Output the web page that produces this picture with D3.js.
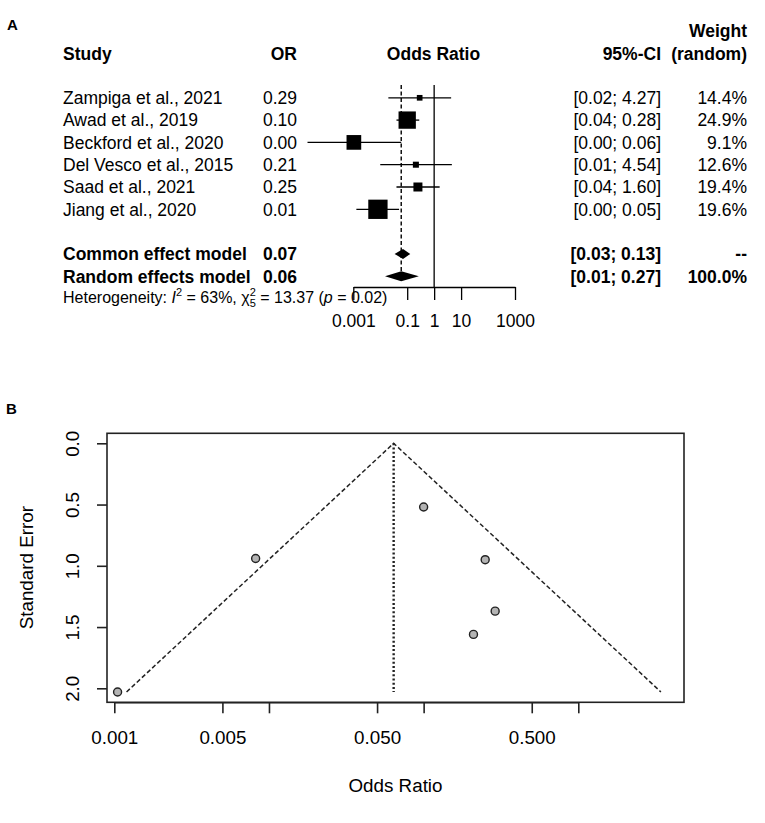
<!DOCTYPE html>
<html>
<head>
<meta charset="utf-8">
<script src="https://cdn.jsdelivr.net/npm/d3@7"></script>
<style>
  body { margin: 0; background: #fff; }
  svg text { font-family: "Liberation Sans", Arial, sans-serif; fill: #000; }
</style>
</head>
<body>
<svg id="chart" width="765" height="823"></svg>
<script>
// study data
var studies = ['Zampiga et al., 2021', 'Awad et al., 2019', 'Beckford et al., 2020',
  'Del Vesco et al., 2015', 'Saad et al., 2021', 'Jiang et al., 2020'];
var orEst = [0.29, 0.10, 0.00105, 0.21, 0.25, 0.0082];
var ciLow = [0.02, 0.04, 0.00002, 0.01, 0.04, 0.0013];
var ciHigh = [4.27, 0.28, 0.06, 4.54, 1.60, 0.05];
var seVal = [1.37, 0.52, 2.03, 1.56, 0.95, 0.94];
var boxWeight = [3.1, 28.9, 20.8, 3.5, 7.8, 35.9];
var orText = ['0.29', '0.10', '0.00', '0.21', '0.25', '0.01'];
var ciText = ['[0.02; 4.27]', '[0.04; 0.28]', '[0.00; 0.06]', '[0.01; 4.54]', '[0.04; 1.60]', '[0.00; 0.05]'];
var weightText = ['14.4%', '24.9%', '9.1%', '12.6%', '19.4%', '19.6%'];

// pooled estimates
var pooledNames = ['Common effect model', 'Random effects model'];
var pooledEst = [0.07, 0.06];
var pooledLow = [0.034, 0.015];
var pooledHigh = [0.13, 0.27];
var pooledOrText = ['0.07', '0.06'];
var pooledCiText = ['[0.03; 0.13]', '[0.01; 0.27]'];
var pooledWeightText = ['--', '100.0%'];

var forestTicks = [0.001, 0.1, 1, 10, 1000];
var funnelXTicks = [0.001, 0.005, 0.01, 0.05, 0.1, 0.5, 1];
var funnelXLabels = ['0.001', '0.005', '', '0.050', '', '0.500', ''];
var funnelYTicks = [0, 0.5, 1, 1.5, 2];
var funnelCenter = 0.064;
var funnelBase = [0.0012, 3.42]; // funnel limits at the largest SE
var seBase = 2.03;

var svg = d3.select('#chart');
var FS = 17.5;

// ---------------- panel A: forest plot ----------------
var fx = d3.scaleLog().domain([0.001, 1000]).range([353.3, 515]);
var rowY = d3.scaleLinear().domain([0, 1]).range([97.8, 120.1]);
var sideScale = d3.scaleSqrt().domain([0, 35.9]).range([0, 19.3]);
var A = svg.append('g');

A.append('text').attr('x', 7).attr('y', 30).attr('font-size', 15).attr('font-weight', 'bold').text('A');

var head = A.append('g').attr('font-size', FS).attr('font-weight', 'bold');
head.append('text').attr('x', 63).attr('y', 59.5).text('Study');
head.append('text').attr('x', 297).attr('y', 59.5).attr('text-anchor', 'end').text('OR');
head.append('text').attr('x', 433.5).attr('y', 59.5).attr('text-anchor', 'middle').text('Odds Ratio');
head.append('text').attr('x', 661).attr('y', 59.5).attr('text-anchor', 'end').text('95%-CI');
head.append('text').attr('x', 747).attr('y', 59.5).attr('text-anchor', 'end').text('(random)');
head.append('text').attr('x', 747).attr('y', 37).attr('text-anchor', 'end').text('Weight');

// reference lines
A.append('line').attr('x1', fx(1)).attr('x2', fx(1)).attr('y1', 85).attr('y2', 287)
  .attr('stroke', '#000').attr('stroke-width', 1.3);
A.append('line').attr('x1', fx(pooledEst[1])).attr('x2', fx(pooledEst[1])).attr('y1', 85).attr('y2', rowY(8))
  .attr('stroke', '#000').attr('stroke-width', 1.4).attr('stroke-dasharray', '4,2.5');

var rows = A.selectAll('g.row').data(studies).enter().append('g').attr('class', 'row');
rows.append('line')
  .attr('x1', function(d, i) { return fx(ciLow[i]); })
  .attr('x2', function(d, i) { return fx(ciHigh[i]); })
  .attr('y1', function(d, i) { return rowY(i); })
  .attr('y2', function(d, i) { return rowY(i); })
  .attr('stroke', '#000').attr('stroke-width', 1.3);
rows.append('rect')
  .attr('x', function(d, i) { return fx(orEst[i]) - sideScale(boxWeight[i]) / 2; })
  .attr('y', function(d, i) { return rowY(i) - sideScale(boxWeight[i]) / 2; })
  .attr('width', function(d, i) { return sideScale(boxWeight[i]); })
  .attr('height', function(d, i) { return sideScale(boxWeight[i]); })
  .attr('fill', '#000');
rows.append('text').attr('x', 63).attr('y', function(d, i) { return rowY(i) + 6.3; })
  .attr('font-size', FS).text(function(d) { return d; });
rows.append('text').attr('x', 297).attr('y', function(d, i) { return rowY(i) + 6.3; })
  .attr('font-size', FS).attr('text-anchor', 'end').text(function(d, i) { return orText[i]; });
rows.append('text').attr('x', 661).attr('y', function(d, i) { return rowY(i) + 6.3; })
  .attr('font-size', FS).attr('text-anchor', 'end').text(function(d, i) { return ciText[i]; });
rows.append('text').attr('x', 747).attr('y', function(d, i) { return rowY(i) + 6.3; })
  .attr('font-size', FS).attr('text-anchor', 'end').text(function(d, i) { return weightText[i]; });

var pooled = A.selectAll('g.pooled').data(pooledNames).enter().append('g').attr('class', 'pooled');
pooled.append('path')
  .attr('d', function(d, i) {
    var y = rowY(7 + i), h = 5;
    return 'M' + fx(pooledLow[i]) + ',' + y + 'L' + fx(pooledEst[i]) + ',' + (y - h) +
      'L' + fx(pooledHigh[i]) + ',' + y + 'L' + fx(pooledEst[i]) + ',' + (y + h) + 'Z';
  })
  .attr('fill', '#000');
pooled.append('text').attr('x', 63).attr('y', function(d, i) { return rowY(7 + i) + 6.3; })
  .attr('font-size', FS).attr('font-weight', 'bold').text(function(d) { return d; });
pooled.append('text').attr('x', 297).attr('y', function(d, i) { return rowY(7 + i) + 6.3; })
  .attr('font-size', FS).attr('font-weight', 'bold').attr('text-anchor', 'end')
  .text(function(d, i) { return pooledOrText[i]; });
pooled.append('text').attr('x', 661).attr('y', function(d, i) { return rowY(7 + i) + 6.3; })
  .attr('font-size', FS).attr('font-weight', 'bold').attr('text-anchor', 'end')
  .text(function(d, i) { return pooledCiText[i]; });
pooled.append('text').attr('x', 747).attr('y', function(d, i) { return rowY(7 + i) + 6.3; })
  .attr('font-size', FS).attr('font-weight', 'bold').attr('text-anchor', 'end')
  .text(function(d, i) { return pooledWeightText[i]; });

// heterogeneity line
var het = A.append('text').attr('x', 63).attr('y', rowY(9) + 4.5).attr('font-size', 16);
het.append('tspan').text('Heterogeneity: ');
het.append('tspan').attr('font-style', 'italic').text('I');
het.append('tspan').attr('font-size', 11).attr('dy', -7).text('2');
het.append('tspan').attr('dy', 7).text(' = 63%, \u03c7');
het.append('tspan').attr('font-size', 11).attr('dy', -7).text('2');
het.append('tspan').attr('font-size', 11).attr('dx', -6.1).attr('dy', 11).text('5');
het.append('tspan').attr('dy', -4).text(' = 13.37 (');
het.append('tspan').attr('font-style', 'italic').text('p');
het.append('tspan').text(' = 0.02)');

var fAxis = A.append('g').attr('transform', 'translate(0,287)')
  .call(d3.axisBottom(fx).tickValues(forestTicks).tickSize(13).tickSizeOuter(0).tickPadding(15)
    .tickFormat(function(d) { return d3.format('~g')(d); }));
fAxis.selectAll('path, line').attr('stroke', '#000').attr('stroke-width', 1.3);
fAxis.selectAll('text').attr('font-size', FS).attr('font-family', null).attr('fill', '#000');

// ---------------- panel B: funnel plot ----------------
var bx = d3.scaleLog().domain([0.001, 1]).range([114.3, 578.3]);
var by = d3.scaleLinear().domain([0, 2]).range([443.3, 688.3]);
var B = svg.append('g');
var ink = '#222';
var BFS = 18.8;

B.append('text').attr('x', 6).attr('y', 414).attr('font-size', 15).attr('font-weight', 'bold').text('B');

B.append('rect').attr('x', 107).attr('y', 433.3).attr('width', 577).attr('height', 269)
  .attr('fill', 'none').attr('stroke', ink).attr('stroke-width', 1.6);

// funnel and centre line
B.append('path')
  .attr('d', d3.line()([[bx(funnelBase[0]), by(seBase)], [bx(funnelCenter), by(0)], [bx(funnelBase[1]), by(seBase)]]))
  .attr('fill', 'none').attr('stroke', ink).attr('stroke-width', 1.5).attr('stroke-dasharray', '4.5,2.5');
B.append('line').attr('x1', bx(funnelCenter)).attr('x2', bx(funnelCenter))
  .attr('y1', by(0)).attr('y2', by(seBase))
  .attr('stroke', ink).attr('stroke-width', 2.4).attr('stroke-dasharray', '2,2.2');

B.selectAll('circle.pt').data(studies).enter().append('circle').attr('class', 'pt')
  .attr('cx', function(d, i) { return bx(orEst[i]); })
  .attr('cy', function(d, i) { return by(seVal[i]); })
  .attr('r', 4).attr('fill', '#b4b4b4').attr('stroke', ink).attr('stroke-width', 1.4);

var bxAxis = B.append('g').attr('transform', 'translate(0,702.3)')
  .call(d3.axisBottom(bx).tickValues(funnelXTicks).tickSize(11).tickSizeOuter(0).tickPadding(17)
    .tickFormat(function(d, i) { return funnelXLabels[i]; }));
bxAxis.selectAll('path, line').attr('stroke', ink).attr('stroke-width', 1.6);
bxAxis.selectAll('text').attr('font-size', BFS).attr('font-family', null).attr('fill', '#111');

var byAxis = B.append('g').attr('transform', 'translate(107,0)')
  .call(d3.axisLeft(by).tickValues(funnelYTicks).tickSize(10).tickSizeOuter(0).tickFormat(d3.format('.1f')));
byAxis.select('.domain').remove();
byAxis.selectAll('line').attr('stroke', ink).attr('stroke-width', 1.6);
byAxis.selectAll('text').attr('font-size', BFS).attr('font-family', null).attr('fill', '#111')
  .attr('text-anchor', 'middle').attr('transform', 'rotate(-90)')
  .attr('x', 0).attr('y', -27.7).attr('dy', null);

B.append('text').attr('x', 395.5).attr('y', 791.6).attr('font-size', BFS).attr('text-anchor', 'middle')
  .attr('fill', '#111').text('Odds Ratio');
B.append('text').attr('transform', 'translate(33.3,567.7) rotate(-90)').attr('font-size', BFS)
  .attr('text-anchor', 'middle').attr('fill', '#111').text('Standard Error');
</script>
</body>
</html>
